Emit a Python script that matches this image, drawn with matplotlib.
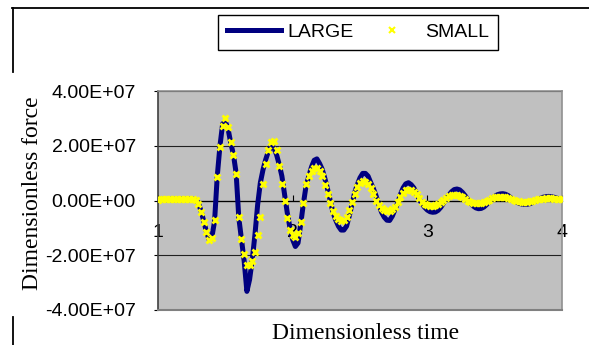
import numpy as np
import matplotlib.pyplot as plt
from matplotlib.lines import Line2D
from matplotlib.ticker import FuncFormatter

plt.rcParams['font.family'] = ['Liberation Sans', 'DejaVu Sans']

# force response sampled every 0.02 of dimensionless time, in units of 1E+07
large_force = [
    0.03, 0.04, 0.04, 0.03, 0.04, 0.05, 0.05, 0.04, 0.05, 0.06,
    0.05, 0.05, 0.06, 0.05, 0.02, -0.09, -0.39, -0.76, -1.15, -1.43,
    -1.34, -0.76, 0.89, 1.99, 2.80, 2.88, 2.62, 2.11, 1.68, 1.01,
    -0.63, -1.43, -2.22, -3.32, -2.89, -2.16, -1.24, -0.15, 0.65, 1.13,
    1.50, 1.80, 1.99, 1.93, 1.68, 1.32, 0.89, 0.22, -0.45, -1.00,
    -1.43, -1.68, -1.55, -0.85, -0.10, 0.55, 0.89, 1.23, 1.47, 1.52,
    1.35, 1.13, 0.79, 0.40, -0.02, -0.45, -0.72, -0.94, -1.08, -1.08,
    -0.94, -0.57, -0.15, 0.28, 0.58, 0.83, 0.99, 0.99, 0.89, 0.65,
    0.43, 0.16, -0.15, -0.43, -0.61, -0.72, -0.73, -0.57, -0.33, -0.09,
    0.22, 0.46, 0.61, 0.65, 0.58, 0.46, 0.26, 0.04, -0.12, -0.25,
    -0.35, -0.41, -0.43, -0.42, -0.36, -0.25, -0.10, 0.06, 0.20, 0.32,
    0.40, 0.42, 0.39, 0.30, 0.18, 0.04, -0.09, -0.20, -0.27, -0.30,
    -0.29, -0.24, -0.15, -0.05, 0.06, 0.15, 0.21, 0.24, 0.25, 0.23,
    0.18, 0.10, 0.02, -0.05, -0.10, -0.13, -0.14, -0.14, -0.12, -0.08,
    -0.03, 0.03, 0.08, 0.12, 0.14, 0.15, 0.14, 0.12, 0.09, 0.06,
    0.04,
]
small_force = [
    0.03, 0.04, 0.05, 0.04, 0.05, 0.06, 0.05, 0.04, 0.05, 0.06,
    0.05, 0.06, 0.05, 0.04, 0.02, -0.12, -0.42, -0.78, -1.15, -1.43,
    -1.36, -0.70, 0.85, 1.95, 2.72, 3.00, 2.70, 2.15, 1.68, 0.95,
    -0.60, -1.40, -1.95, -2.34, -2.34, -2.20, -1.87, -1.25, -0.60, 0.60,
    1.35, 1.85, 2.15, 2.18, 1.85, 1.26, 0.59, -0.02, -0.63, -1.06,
    -1.27, -1.34, -1.18, -0.80, -0.10, 0.62, 0.90, 1.08, 1.17, 1.19,
    1.08, 0.88, 0.56, 0.25, -0.10, -0.38, -0.56, -0.68, -0.74, -0.72,
    -0.60, -0.36, -0.05, 0.24, 0.48, 0.63, 0.70, 0.68, 0.60, 0.47,
    0.25, 0.00, -0.17, -0.29, -0.35, -0.39, -0.38, -0.32, -0.22, -0.05,
    0.14, 0.28, 0.37, 0.39, 0.37, 0.32, 0.22, 0.08, -0.04, -0.12,
    -0.16, -0.19, -0.20, -0.18, -0.13, -0.06, 0.02, 0.10, 0.16, 0.20,
    0.21, 0.20, 0.17, 0.12, 0.06, 0.00, -0.05, -0.08, -0.10, -0.10,
    -0.09, -0.06, -0.02, 0.03, 0.08, 0.11, 0.13, 0.14, 0.14, 0.13,
    0.10, 0.06, 0.02, -0.01, -0.03, -0.04, -0.05, -0.04, -0.03, -0.01,
    0.02, 0.04, 0.06, 0.07, 0.08, 0.08, 0.08, 0.07, 0.06, 0.05,
    0.04,
]
scale = 1e7
time_axis = np.linspace(1.0, 4.0, len(large_force))
x_ticks = [1, 2, 3, 4]
y_ticks = [-4e7, -2e7, 0, 2e7, 4e7]

fig = plt.figure(figsize=(5.89, 3.45), dpi=100)
ax = fig.add_axes([158 / 589, 35 / 345, 404 / 589, 219 / 345])
ax.set_facecolor('#c0c0c0')

ax.plot(time_axis, np.array(large_force) * scale, color='#000080', lw=3.6,
        solid_joinstyle='round', label='LARGE', zorder=3)
ax.plot(time_axis, np.array(small_force) * scale, ls='none', marker='x',
        color='#ffff00', ms=5, mew=2.0, label='SMALL', zorder=4)

ax.set_xlim(1, 4)
ax.set_ylim(-4e7, 4e7)
ax.set_xticks(x_ticks)
ax.set_yticks(y_ticks)
ax.yaxis.set_major_formatter(FuncFormatter(lambda v, p: f'{v:.2E}'))
ax.yaxis.grid(True, color='#202020', lw=0.8)
ax.set_axisbelow(True)

# x axis crosses at zero force
ax.spines['bottom'].set_position(('data', 0))
ax.spines['bottom'].set_color('black')
ax.spines['bottom'].set_linewidth(0.9)
ax.spines['left'].set_color('#404040')
ax.spines['left'].set_linewidth(1.2)
for side in ['top', 'right']:
    ax.spines[side].set_color('#909090')
    ax.spines[side].set_linewidth(1.2)
ax.axhline(-4e7, color='#808080', lw=1.5, zorder=5, clip_on=False)

ax.tick_params(axis='x', direction='in', length=4, width=0.8, pad=17,
               labelsize=14, colors='black')
ax.tick_params(axis='y', direction='out', length=3, width=0.8, pad=13,
               labelsize=14, colors='black')

fig.text(33 / 589, 1 - 193 / 345, 'Dimensionless force', rotation=90,
         ha='center', va='center', fontsize=17, family='Liberation Serif')
fig.text(366 / 589, 1 - 339 / 345, 'Dimensionless time', ha='center',
         va='baseline', fontsize=17, family='Liberation Serif')

leg = fig.legend(loc='center', bbox_to_anchor=(358 / 589, 1 - 32.5 / 345),
                 ncol=2, fontsize=14, numpoints=1, handlelength=2.8,
                 handletextpad=0.3, columnspacing=0.6, borderpad=0.45,
                 fancybox=False, framealpha=1, edgecolor='black')
leg.get_frame().set_linewidth(1.0)
leg.legend_handles[1].set_markersize(4)
leg.legend_handles[1].set_markeredgewidth(1.5)

# outer chart border fragments
fig.add_artist(Line2D([12 / 589, 1.0], [1 - 8 / 345, 1 - 8 / 345],
                      color='black', lw=1.3))
fig.add_artist(Line2D([12.5 / 589, 12.5 / 589], [1 - 8 / 345, 1 - 72 / 345],
                      color='black', lw=1.3))
fig.add_artist(Line2D([13 / 589, 13 / 589], [1 - 317 / 345, 0.0],
                      color='black', lw=1.3))

fig.savefig('out.png', dpi=100)
